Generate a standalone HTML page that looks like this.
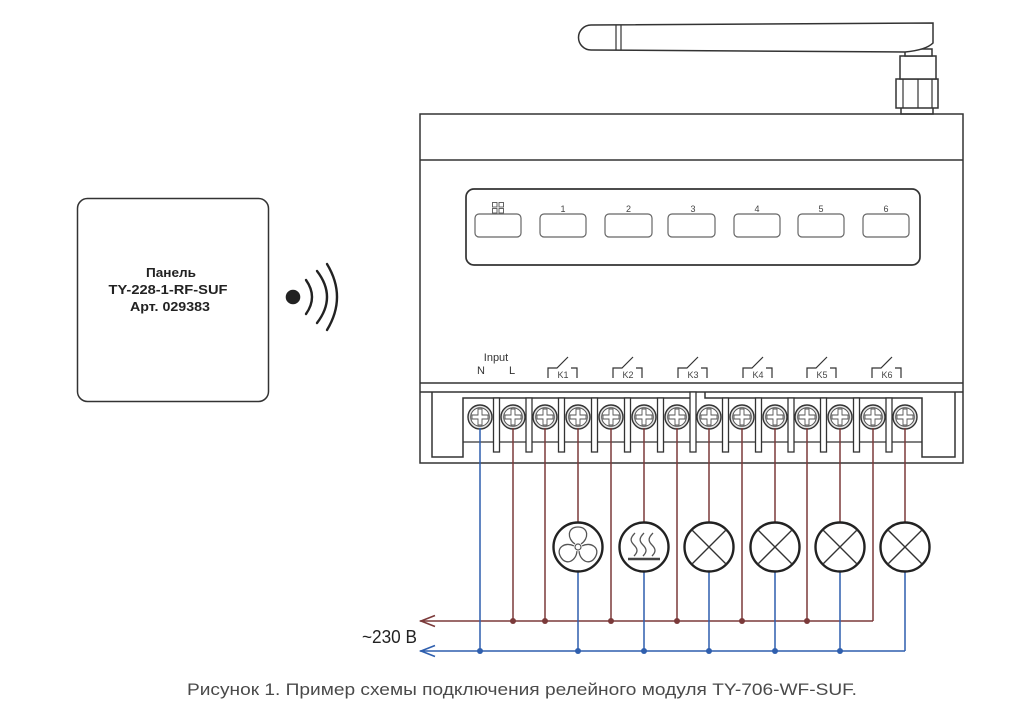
<!DOCTYPE html>
<html><head><meta charset="utf-8"><style>
html,body{margin:0;padding:0;background:#fff;}
svg{display:block;}
text{font-family:"Liberation Sans",sans-serif;}
</style></head><body>
<svg width="1024" height="708" viewBox="0 0 1024 708" xmlns="http://www.w3.org/2000/svg">
<rect width="1024" height="708" fill="#fff"/>
<defs>
<g id="s">
<circle r="12" fill="#e4e4e4" stroke="#333" stroke-width="1.4"/>
<circle r="9.3" fill="#fff" stroke="#555" stroke-width="1"/>
<path d="M-2,-8 h4 v6 h6 v4 h-6 v6 h-4 v-6 h-6 v-4 h6z" fill="#fff" stroke="#555" stroke-width="0.9"/>
</g>
<g id="lamp">
<circle r="24.5" fill="#fff" stroke="#222" stroke-width="2.4"/>
<path d="M-17,-17 L17,17 M17,-17 L-17,17" stroke="#333" stroke-width="1.4" fill="none"/>
</g>
<path id="blade" d="M-3,-3 C-11,-8 -11,-20 0,-20 C11,-20 11,-8 3,-3" fill="none" stroke="#555" stroke-width="1.3"/>
</defs>

<!-- Remote panel -->
<rect x="77.5" y="198.5" width="191" height="203" rx="10" fill="none" stroke="#333" stroke-width="1.5"/>
<text x="171" y="277" font-size="13" font-weight="bold" fill="#222" text-anchor="middle" textLength="50" lengthAdjust="spacingAndGlyphs">Панель</text>
<text x="168" y="294" font-size="13" font-weight="bold" fill="#222" text-anchor="middle" textLength="119" lengthAdjust="spacingAndGlyphs">TY-228-1-RF-SUF</text>
<text x="170" y="311" font-size="13" font-weight="bold" fill="#222" text-anchor="middle" textLength="80" lengthAdjust="spacingAndGlyphs">Арт. 029383</text>

<!-- wireless -->
<circle cx="293" cy="297" r="7.3" fill="#222"/>
<path d="M306,280 Q318,297 306,314 M317,271 Q337,297 317,323 M327,264 Q347,297 327,330" fill="none" stroke="#222" stroke-width="2.4" stroke-linecap="round"/>

<!-- Antenna -->
<g fill="#fff" stroke="#333" stroke-width="1.5">
<rect x="901" y="107" width="32" height="7"/>
<rect x="896" y="79" width="42" height="29"/>
<rect x="900" y="56" width="36" height="23"/>
<rect x="905" y="49" width="27" height="7"/>
<path d="M591,25 L933,23 L933,43 Q926,50 905,52 L591,50 A12.5,12.5 0 0 1 591,25 Z"/>
</g>
<path d="M616,25 V50 M621,25 V50 M903,79 V108 M918,79 V108 M932,79 V108" stroke="#333" stroke-width="1.2" fill="none"/>

<!-- Module body -->
<g fill="none" stroke="#333" stroke-width="1.5">
<rect x="420" y="114" width="543" height="349"/>
<path d="M420,160 H963 M420,383 H963 M420,392 H963"/>
<rect x="466" y="189" width="454" height="76" rx="8" stroke-width="1.7"/>
<path d="M432,392 V457 H463 V398 H690 M705,392 V398 H922 V457 H955 V392"/>
<path d="M463,442 H922" stroke-width="1.3"/>
</g>
<!-- buttons -->
<g fill="#fff" stroke="#666" stroke-width="1.2">
<rect x="475" y="214" width="46" height="23" rx="4"/>
<rect x="540" y="214" width="46" height="23" rx="4"/>
<rect x="605" y="214" width="47" height="23" rx="4"/>
<rect x="668" y="214" width="47" height="23" rx="4"/>
<rect x="734" y="214" width="46" height="23" rx="4"/>
<rect x="798" y="214" width="46" height="23" rx="4"/>
<rect x="863" y="214" width="46" height="23" rx="4"/>
</g>
<g fill="none" stroke="#555" stroke-width="0.9">
<rect x="492.5" y="202.5" width="4.5" height="4.5"/>
<rect x="499" y="202.5" width="4.5" height="4.5"/>
<rect x="492.5" y="208.5" width="4.5" height="4.5"/>
<rect x="499" y="208.5" width="4.5" height="4.5"/>
</g>
<g font-size="9" fill="#444" text-anchor="middle">
<text x="563" y="212">1</text>
<text x="628.5" y="212">2</text>
<text x="693" y="212">3</text>
<text x="757" y="212">4</text>
<text x="821" y="212">5</text>
<text x="886" y="212">6</text>
</g>

<!-- Input labels -->
<g fill="#333" text-anchor="middle">
<text x="496" y="361" font-size="11">Input</text>
<text x="481" y="374" font-size="11">N</text>
<text x="512" y="374" font-size="11">L</text>
</g>
<!-- relay symbols -->
<g fill="none" stroke="#333" stroke-width="1.2">
<path d="M548,378 V368 H557 L568,357 M571,368 H577 V378"/>
<path d="M613,378 V368 H622 L633,357 M636,368 H642 V378"/>
<path d="M678,378 V368 H687 L698,357 M701,368 H707 V378"/>
<path d="M743,378 V368 H752 L763,357 M766,368 H772 V378"/>
<path d="M807,378 V368 H816 L827,357 M830,368 H836 V378"/>
<path d="M872,378 V368 H881 L892,357 M895,368 H901 V378"/>
</g>
<g font-size="9" fill="#444" text-anchor="middle">
<text x="563" y="378">K1</text>
<text x="628" y="378">K2</text>
<text x="693" y="378">K3</text>
<text x="758" y="378">K4</text>
<text x="822" y="378">K5</text>
<text x="887" y="378">K6</text>
</g>

<!-- tabs -->
<g fill="#fff" stroke="#333" stroke-width="1.3">
<rect x="493.5" y="398" width="6" height="54"/>
<rect x="526" y="398" width="6" height="54"/>
<rect x="558.5" y="398" width="6" height="54"/>
<rect x="591.5" y="398" width="6" height="54"/>
<rect x="624.5" y="398" width="6" height="54"/>
<rect x="657.5" y="398" width="6" height="54"/>
<rect x="690" y="392" width="6" height="60"/>
<rect x="722.5" y="398" width="6" height="54"/>
<rect x="755.5" y="398" width="6" height="54"/>
<rect x="788" y="398" width="6" height="54"/>
<rect x="820.5" y="398" width="6" height="54"/>
<rect x="853.5" y="398" width="6" height="54"/>
<rect x="886" y="398" width="6" height="54"/>
</g>

<!-- screws -->
<use href="#s" x="480" y="417"/>
<use href="#s" x="513" y="417"/>
<use href="#s" x="545" y="417"/>
<use href="#s" x="578" y="417"/>
<use href="#s" x="611" y="417"/>
<use href="#s" x="644" y="417"/>
<use href="#s" x="677" y="417"/>
<use href="#s" x="709" y="417"/>
<use href="#s" x="742" y="417"/>
<use href="#s" x="775" y="417"/>
<use href="#s" x="807" y="417"/>
<use href="#s" x="840" y="417"/>
<use href="#s" x="873" y="417"/>
<use href="#s" x="905" y="417"/>

<!-- wires -->
<g fill="none" stroke="#7b3a3a" stroke-width="1.5">
<path d="M513,428 V621 M545,428 V621 M611,428 V621 M677,428 V621 M742,428 V621 M807,428 V621 M873,428 V621"/>
<path d="M578,428 V522 M644,428 V522 M709,428 V522 M775,428 V522 M840,428 V522 M905,428 V522"/>
<path d="M420,621 H873"/>
<path d="M435,615.5 L421,621 L435,626.5" stroke-width="1.6"/>
</g>
<g fill="none" stroke="#2f5fae" stroke-width="1.5">
<path d="M480,428 V651"/>
<path d="M578,572 V651 M644,572 V651 M709,572 V651 M775,572 V651 M840,572 V651 M905,572 V651"/>
<path d="M420,651 H905"/>
<path d="M435,645.5 L421,651 L435,656.5" stroke-width="1.6"/>
</g>
<g fill="#7b3a3a">
<circle cx="513" cy="621" r="3"/><circle cx="545" cy="621" r="3"/><circle cx="611" cy="621" r="3"/>
<circle cx="677" cy="621" r="3"/><circle cx="742" cy="621" r="3"/><circle cx="807" cy="621" r="3"/>
</g>
<g fill="#2f5fae">
<circle cx="480" cy="651" r="3"/><circle cx="578" cy="651" r="3"/><circle cx="644" cy="651" r="3"/>
<circle cx="709" cy="651" r="3"/><circle cx="775" cy="651" r="3"/><circle cx="840" cy="651" r="3"/>
</g>

<!-- loads -->
<circle cx="578" cy="547" r="24.5" fill="#fff" stroke="#222" stroke-width="2.4"/>
<g transform="translate(578,547)">
<circle r="3" fill="none" stroke="#555" stroke-width="1.2"/>
<use href="#blade"/>
<use href="#blade" transform="rotate(120)"/>
<use href="#blade" transform="rotate(240)"/>
</g>
<circle cx="644" cy="547" r="24.5" fill="#fff" stroke="#222" stroke-width="2.4"/>
<g fill="none" stroke="#555" stroke-width="1.3">
<path d="M635,533 C630,538 630,541 634,545 C638,549 638,552 634,556"/>
<path d="M644,533 C639,538 639,541 643,545 C647,549 647,552 643,556"/>
<path d="M653,533 C648,538 648,541 652,545 C656,549 656,552 652,556"/>
</g>
<path d="M628,559 H660" stroke="#444" stroke-width="2.4"/>
<use href="#lamp" x="709" y="547"/>
<use href="#lamp" x="775" y="547"/>
<use href="#lamp" x="840" y="547"/>
<use href="#lamp" x="905" y="547"/>

<!-- voltage label -->
<text x="362" y="643" font-size="18" fill="#222" textLength="55" lengthAdjust="spacingAndGlyphs">~230 В</text>

<!-- caption -->
<text x="187" y="695" font-size="17" fill="#4a4a4a" textLength="670" lengthAdjust="spacingAndGlyphs">Рисунок 1. Пример схемы подключения релейного модуля TY-706-WF-SUF.</text>
</svg>
</body></html>
